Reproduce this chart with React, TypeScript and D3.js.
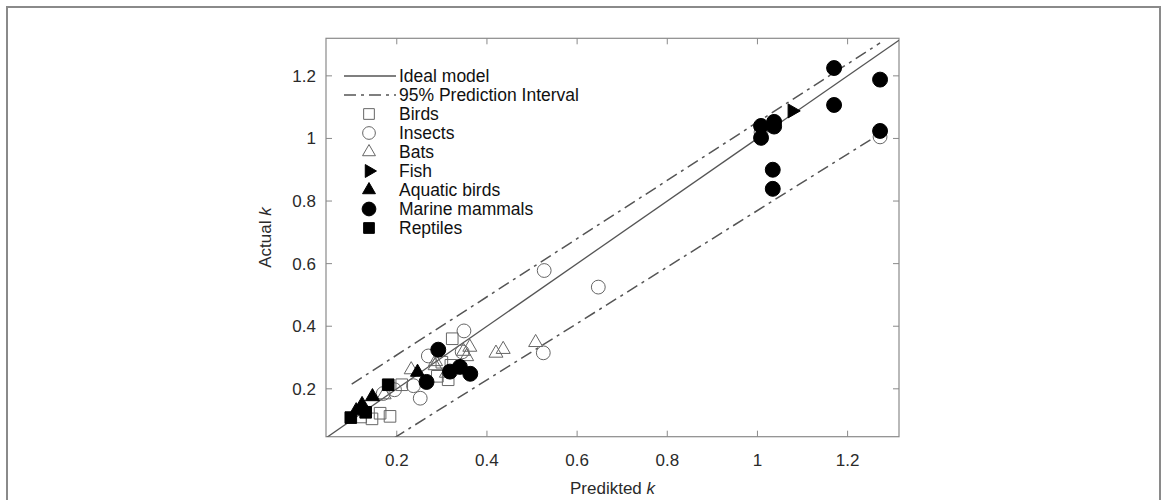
import * as d3 from 'd3'

// axis setup
const xDomain = [0.043, 1.314]
const yDomain = [0.047, 1.32]
const xTicks = [0.2, 0.4, 0.6, 0.8, 1, 1.2]
const yTicks = [0.2, 0.4, 0.6, 0.8, 1, 1.2]

// series [predicted, actual]
const birds = [
  [0.323, 0.36], [0.3, 0.285], [0.314, 0.229], [0.29, 0.24], [0.211, 0.213],
  [0.185, 0.112], [0.163, 0.122], [0.145, 0.104], [0.12, 0.11], [0.32, 0.275],
]
const insects = [
  [0.527, 0.578], [0.647, 0.525], [0.525, 0.315], [0.349, 0.385], [0.27, 0.305],
  [0.345, 0.318], [0.252, 0.17], [0.237, 0.21], [0.195, 0.197], [0.17, 0.185],
  [1.272, 1.005], [1.008, 1.02], [1.037, 1.04],
]
const bats = [
  [0.362, 0.333], [0.42, 0.314], [0.436, 0.326], [0.508, 0.348], [0.348, 0.32],
  [0.285, 0.274], [0.232, 0.261], [0.172, 0.181], [0.286, 0.287], [0.355, 0.303],
  [0.31, 0.25],
]
const fish = [[1.077, 1.088]]
const aquaticBirds = [[0.246, 0.253], [0.146, 0.175], [0.123, 0.15], [0.11, 0.13]]
const marineMammals = [
  [0.292, 0.325], [0.318, 0.255], [0.34, 0.27], [0.363, 0.248], [0.266, 0.222],
  [1.008, 1.04], [1.008, 1.002], [1.037, 1.053], [1.037, 1.038], [1.034, 0.9],
  [1.034, 0.839], [1.17, 1.225], [1.17, 1.107], [1.272, 1.188], [1.272, 1.024],
]
const reptiles = [[0.181, 0.213], [0.131, 0.125], [0.098, 0.108]]

const idealLine = [[0.043, 0.043], [1.314, 1.314]]
const upperPI = [[0.1, 0.215], [1.272, 1.305]]
const lowerPI = [[0.1, -0.042], [1.272, 1.015]]

const W = 1165
const H = 500
const left = 326
const right = 899
const top = 38.3
const bottom = 436.7

const font = '"Liberation Sans", Arial, Helvetica, sans-serif'
const dashDot = '12,5,3,5'

const series = [
  { name: 'Birds', data: birds, type: d3.symbolSquare, size: 135, filled: false, rot: 0 },
  { name: 'Insects', data: insects, type: d3.symbolCircle, size: 150, filled: false, rot: 0 },
  { name: 'Bats', data: bats, type: d3.symbolTriangle, size: 85, filled: false, rot: 0 },
  { name: 'Fish', data: fish, type: d3.symbolTriangle, size: 85, filled: true, rot: 90 },
  { name: 'Aquatic birds', data: aquaticBirds, type: d3.symbolTriangle, size: 85, filled: true, rot: 0 },
  { name: 'Marine mammals', data: marineMammals, type: d3.symbolCircle, size: 175, filled: true, rot: 0 },
  { name: 'Reptiles', data: reptiles, type: d3.symbolSquare, size: 135, filled: true, rot: 0 },
]

export default function App() {
  const x = d3.scaleLinear().domain(xDomain).range([left, right])
  const y = d3.scaleLinear().domain(yDomain).range([bottom, top])
  const line = d3.line<number[]>().x((d) => x(d[0])).y((d) => y(d[1]))
  const axisColor = '#8a8a8a'
  const textColor = '#2a2a2a'

  const legendRows = ['Ideal model', '95% Prediction Interval', ...series.map((s) => s.name)]

  return (
    <svg width={W} height={H} style={{ position: 'absolute', left: 0, top: 0, background: '#fff' }}>
      <rect x={7} y={7} width={1153} height={560} fill="none" stroke="#8a8a8a" strokeWidth={2} />
      <defs>
        <clipPath id="plotClip">
          <rect x={left} y={top} width={right - left} height={bottom - top} />
        </clipPath>
      </defs>

      {/* axes box + ticks */}
      <rect x={left} y={top} width={right - left} height={bottom - top} fill="none" stroke={axisColor} strokeWidth={1.2} />
      {xTicks.map((t) => (
        <g key={'x' + t}>
          <line x1={x(t)} x2={x(t)} y1={bottom} y2={bottom - 6} stroke={axisColor} />
          <line x1={x(t)} x2={x(t)} y1={top} y2={top + 6} stroke={axisColor} />
          <text x={x(t)} y={bottom + 29} textAnchor="middle" fontFamily={font} fontSize={17} fill={textColor}>
            {d3.format('~g')(t)}
          </text>
        </g>
      ))}
      {yTicks.map((t) => (
        <g key={'y' + t}>
          <line x1={left} x2={left + 6} y1={y(t)} y2={y(t)} stroke={axisColor} />
          <line x1={right} x2={right - 6} y1={y(t)} y2={y(t)} stroke={axisColor} />
          <text x={left - 10} y={y(t) + 6} textAnchor="end" fontFamily={font} fontSize={17} fill={textColor}>
            {d3.format('~g')(t)}
          </text>
        </g>
      ))}

      {/* axis labels */}
      <text x={(left + right) / 2} y={494} textAnchor="middle" fontFamily={font} fontSize={17} fill={textColor}>
        Predikted <tspan fontStyle="italic">k</tspan>
      </text>
      <text
        transform={`translate(271, ${(top + bottom) / 2}) rotate(-90)`}
        textAnchor="middle"
        fontFamily={font}
        fontSize={17}
        fill={textColor}
      >
        Actual <tspan fontStyle="italic">k</tspan>
      </text>

      {/* lines */}
      <g clipPath="url(#plotClip)">
        <path d={line(idealLine) ?? ''} fill="none" stroke="#555" strokeWidth={1.3} />
        <path d={line(upperPI) ?? ''} fill="none" stroke="#555" strokeWidth={1.5} strokeDasharray={dashDot} />
        <path d={line(lowerPI) ?? ''} fill="none" stroke="#555" strokeWidth={1.5} strokeDasharray={dashDot} />
      </g>

      {/* points */}
      {series.map((s) => {
        const p = d3.symbol().type(s.type).size(s.size)()
        return (
          <g key={s.name}>
            {s.data.map((d, i) => (
              <path
                key={i}
                d={p ?? ''}
                transform={`translate(${x(d[0])},${y(d[1])}) rotate(${s.rot})`}
                fill={s.filled ? '#000' : 'none'}
                stroke={s.filled ? '#000' : '#666'}
                strokeWidth={1}
              />
            ))}
          </g>
        )
      })}

      {/* legend */}
      {legendRows.map((name, i) => {
        const cy = 76 + i * 19
        let mark = null
        if (i === 0) {
          mark = <line x1={344} x2={396} y1={cy} y2={cy} stroke="#555" strokeWidth={1.3} />
        } else if (i === 1) {
          mark = <line x1={344} x2={396} y1={cy} y2={cy} stroke="#555" strokeWidth={1.5} strokeDasharray={dashDot} />
        } else {
          const s = series[i - 2]
          const p = d3.symbol().type(s.type).size(s.size * 0.85)()
          mark = (
            <path
              d={p ?? ''}
              transform={`translate(369,${cy}) rotate(${s.rot})`}
              fill={s.filled ? '#000' : 'none'}
              stroke={s.filled ? '#000' : '#666'}
              strokeWidth={1}
            />
          )
        }
        return (
          <g key={name}>
            {mark}
            <text x={399} y={cy + 6} fontFamily={font} fontSize={17.5} fill="#111">
              {name}
            </text>
          </g>
        )
      })}
    </svg>
  )
}
